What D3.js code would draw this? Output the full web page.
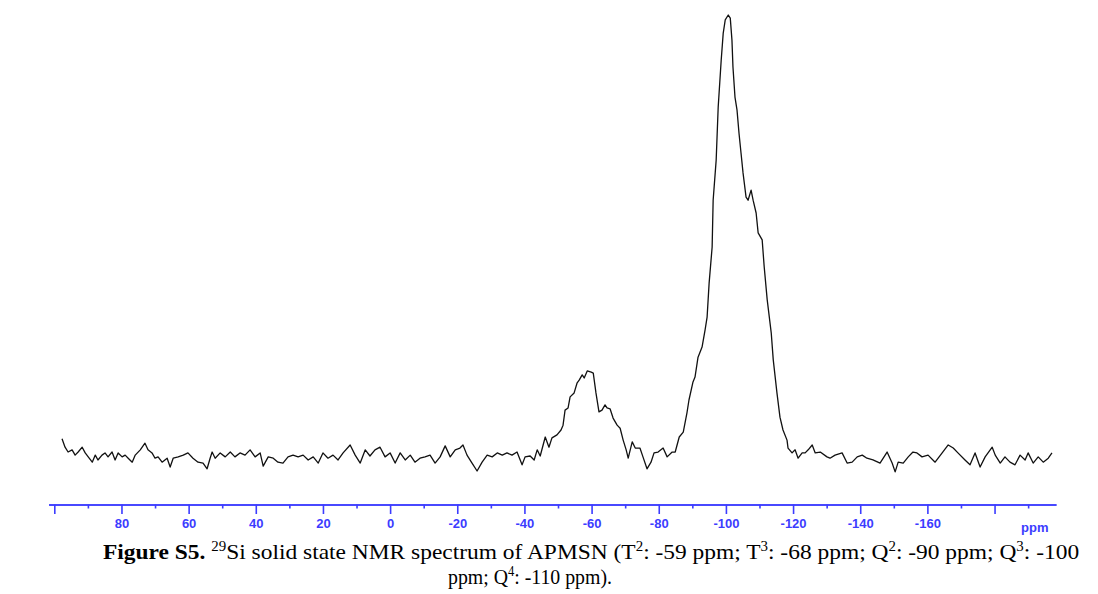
<!DOCTYPE html>
<html><head><meta charset="utf-8">
<script src="https://cdn.jsdelivr.net/npm/d3@7"></script>
<style>body{margin:0;background:#fff;overflow:hidden}</style>
</head><body>
<svg id="c" width="1098" height="594"></svg>
<script>
// chemical shift (ppm)
const shiftPpm = [
97.7,96.8,95.9,94.7,93.8,92.9,91.7,90.8,89.9,88.7,87.8,87.0,85.8,84.9,84.0,82.8,81.9,81.0,79.8,78.9,78.0,76.8,75.9,74.4,73.0,72.1,70.9,70.0,69.1,67.9,66.4,65.5,64.6,63.1,61.6,60.2,58.7,57.2,55.7,54.5,53.6,53.0,52.1,50.6,49.1,47.6,46.2,44.7,43.2,41.7,40.2,38.7,37.8,36.3,34.8,33.4,31.9,30.4,28.9,27.4,25.9,24.4,22.9,21.4,20.0,18.5,17.0,15.5,14.0,11.9,10.4,8.9,7.4,6.0,4.5,3.0,1.5,0.0,-1.5,-3.0,-4.5,-6.0,-7.4,-8.9,-10.4,-11.9,-13.4,-14.9,-16.4,-17.9,-19.4,-20.8,-21.7,-22.9,-24.4,-25.9,-27.4,-28.9,-30.4,-31.9,-33.4,-34.8,-36.3,-37.8,-39.3,-40.2,
-41.7,-42.9,-43.8,-44.7,-46.2,-47.3,-48.2,-49.7,-50.9,-51.5,-52.1,-53.0,-53.6,-54.8,-55.7,-56.3,-57.2,-57.8,-58.7,-59.9,-60.5,-61.3,-62.2,-63.1,-64.0,-64.6,-65.5,-66.4,-67.6,-68.5,-69.4,-70.3,-70.9,-72.1,-73.0,-74.4,-75.3,-76.5,-77.7,-78.6,-79.8,-81.3,-82.5,-84.0,-84.9,-86.1,-87.3,-88.4,-89.0,-90.2,-90.8,-91.7,-92.9,-93.8,-94.4,-95.0,-95.9,-96.2,-97.1,-97.7,-98.6,-99.2,-99.8,-100.7,-101.3,-101.8,-102.1,-102.7,-103.3,-103.9,-104.5,-105.1,-106.0,-106.6,-107.5,-108.1,-109.0,-109.6,-110.8,-111.4,-112.3,-113.5,-114.1,-115.2,-116.1,-117.0,-118.2,-118.5,-119.7,-120.6,-121.5,-122.7,-123.6,-124.5,-125.7,-126.6,-128.1,-130.1,-131.0,-132.5,-134.6,-136.1,-137.6,-139.1,-140.6,-142.0,-143.8,-145.9,-148.0,-149.5,-150.4,-151.3,-152.8,-154.3,-155.7,-156.9,-158.4,-160.2,-162.3,-164.4,-166.2,-167.7,-169.1,-171.2,-172.7,-174.2,-175.7,-177.2,-179.3,-180.2,-181.7,-183.1,-184.6,-186.1,-187.6,-189.1,-190.0,-191.5,-193.0,-194.5,-196.0,-197.1
];
// relative intensity (main peak = 100)
const intensity = [
3.9,2.0,0.9,1.4,0.2,0.9,2.0,0.7,-0.2,-1.4,0.2,-0.9,0.2,0.7,-0.2,0.9,-0.9,0.7,-0.2,0.2,-0.5,-1.4,0.2,1.4,2.9,1.4,0.7,-0.5,-0.2,-1.4,-0.5,-2.5,-0.5,-0.2,0.2,0.7,-0.5,-1.4,-1.6,-2.9,-0.5,0.9,-0.5,0.7,-0.2,0.9,-0.2,0.7,0.2,1.4,-0.2,0.7,-2.3,-0.2,-0.5,-1.4,-1.6,-0.2,0.2,-0.2,0.2,-0.9,-0.2,-1.6,0.7,-0.5,0.2,-0.9,0.7,2.5,0.2,-1.6,1.4,0.0,1.4,2.0,-0.2,0.7,-1.6,0.7,-0.9,0.2,-1.4,-0.5,-0.2,0.2,-1.6,-0.2,2.3,-0.2,1.4,1.8,2.5,0.2,-1.6,-3.4,-1.4,0.2,-0.2,0.7,0.2,0.7,0.2,0.9,-2.0,-0.2,
0.0,-0.9,1.4,0.0,4.3,2.0,4.1,4.8,5.9,7.0,10.4,10.9,13.4,14.3,16.6,17.2,18.4,17.7,19.3,19.0,18.8,14.3,10.0,10.4,11.6,10.9,10.7,8.6,7.0,6.3,3.6,1.4,-0.5,3.2,1.8,1.8,-0.2,-2.9,-1.4,0.7,0.9,1.8,-0.2,0.9,0.9,4.3,5.4,9.8,12.7,16.8,17.9,22.4,24.7,28.6,31.5,39.2,47.4,58.0,67.1,79.1,89.8,95.9,98.9,100,99.3,94.3,88.2,81.4,78.5,73.2,68.7,64.2,58.7,58.0,60.3,58.0,55.1,50.6,49.0,42.9,35.4,27.9,21.8,14.3,8.8,5.9,3.6,1.8,0.7,1.4,-0.5,0.7,0.7,1.4,2.5,0.7,0.9,-0.2,-0.5,0.2,0.7,-1.6,-1.4,-0.2,0.2,-0.5,-0.9,-1.6,0.9,-1.6,-3.6,-1.4,-1.6,-0.2,0.9,0.7,-0.2,0.2,-1.4,0.7,2.5,1.8,0.7,-0.9,-2.0,0.7,-2.5,-0.2,2.0,0.2,-1.6,-0.2,-1.4,-2.0,0.2,-0.9,0.7,-1.6,-0.2,-1.4,-0.5,0.7
];
const majorTicks = [100,80,60,40,20,0,-20,-40,-60,-80,-100,-120,-140,-160,-180];
const tickLabels = ["","80","60","40","20","0","-20","-40","-60","-80","-100","-120","-140","-160",""];
const minorTicks = [90,70,50,30,10,-10,-30,-50,-70,-90,-110,-130,-150,-170,-190];
const axisUnit = "ppm";
const axisRange = [101.7, -198.3];
const caption1 = [
  {t:"Figure S5.", b:true},{t:" "},{t:"29", sup:true},{t:"Si solid state NMR spectrum of APMSN (T"},{t:"2",sup:true},
  {t:": -59 ppm; T"},{t:"3",sup:true},{t:": -68 ppm; Q"},{t:"2",sup:true},{t:": -90 ppm; Q"},{t:"3",sup:true},{t:": -100"}
];
const caption2 = [{t:"ppm; Q"},{t:"4",sup:true},{t:": -110 ppm)."}];

const svg = d3.select("#c");
const blue = "#3c3cff";
const x = d3.scaleLinear().domain(axisRange).range([48.6, 1056]);
const y = d3.scaleLinear().domain([0, 100]).range([456, 15]);
const axisY = 504.5;

const data = shiftPpm.map((p,i)=>({p, v:intensity[i]}));
svg.append("path").datum(data)
  .attr("fill","none").attr("stroke","#111").attr("stroke-width",1.3)
  .attr("stroke-linejoin","round")
  .attr("d", d3.line().x(d=>x(d.p)).y(d=>y(d.v)));

const gMinor = svg.append("g").attr("transform",`translate(0,${axisY})`)
  .call(d3.axisBottom(x).tickValues(minorTicks).tickSize(4).tickSizeOuter(0).tickFormat(""));
const gMajor = svg.append("g").attr("transform",`translate(0,${axisY})`)
  .call(d3.axisBottom(x).tickValues(majorTicks).tickSize(9.5).tickSizeOuter(0).tickPadding(5)
    .tickFormat((d,i)=>tickLabels[i]));
[gMinor,gMajor].forEach(g=>{
  g.select(".domain").attr("stroke",blue).attr("stroke-width",1.6);
  g.selectAll(".tick line").attr("stroke",blue).attr("stroke-width",1.6);
  g.selectAll(".tick text").attr("fill",blue).attr("font-family","Liberation Sans, Arial, sans-serif")
    .attr("font-weight","bold").attr("font-size",13);
});
svg.append("text").attr("x", x(-192)).attr("y", 532).attr("text-anchor","middle")
  .attr("fill",blue).attr("font-family","Liberation Sans, Arial, sans-serif")
  .attr("font-weight","bold").attr("font-size",13).text(axisUnit);

function caption(segs, x0, base, width){
  const t = svg.append("text").attr("x",x0).attr("y",base)
    .attr("font-family","Liberation Serif, Times New Roman, serif").attr("font-size",22).attr("fill","#000");
  let raised=false;
  segs.forEach(s=>{
    const ts = t.append("tspan").text(s.t);
    if(s.b) ts.attr("font-weight","bold");
    if(s.sup){ ts.attr("font-size",14).attr("dy",-8); raised=true; }
    else if(raised){ ts.attr("dy",8); raised=false; }
  });
  const w = t.node().getComputedTextLength();
  const k = width / w;
  t.attr("transform",`translate(${x0},0) scale(${k},1) translate(${-x0},0)`);
}
caption(caption1, 103, 559, 977);
caption(caption2, 448, 584, 164);
</script>
</body></html>
